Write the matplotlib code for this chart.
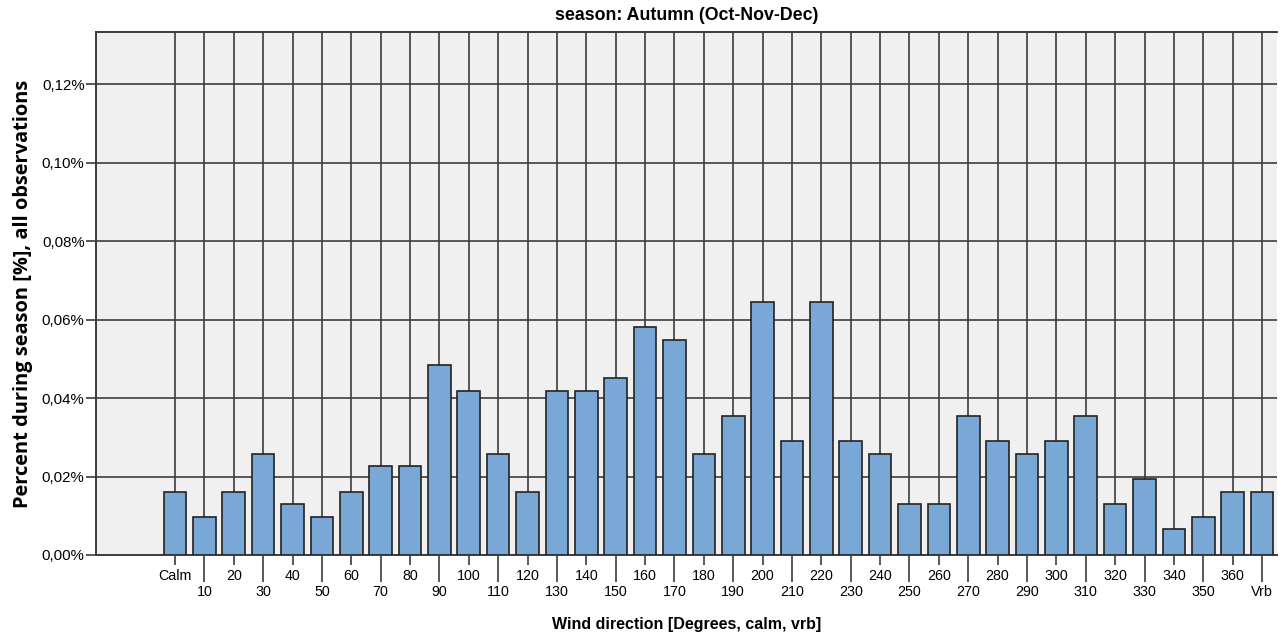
import matplotlib.pyplot as plt
import numpy as np

plt.rcParams['font.family'] = ['Liberation Sans', 'DejaVu Sans']

# Data
categories = ['Calm', '10', '20', '30', '40', '50', '60', '70', '80', '90',
              '100', '110', '120', '130', '140', '150', '160', '170', '180',
              '190', '200', '210', '220', '230', '240', '250', '260', '270',
              '280', '290', '300', '310', '320', '330', '340', '350', '360', 'Vrb']
percent = [0.0161, 0.0097, 0.0161, 0.0258, 0.0129, 0.0097, 0.0161, 0.0226,
           0.0226, 0.0484, 0.0419, 0.0258, 0.0161, 0.0419, 0.0419, 0.0452,
           0.0581, 0.0548, 0.0258, 0.0355, 0.0645, 0.0290, 0.0645, 0.0290,
           0.0258, 0.0129, 0.0129, 0.0355, 0.0290, 0.0258, 0.0290, 0.0355,
           0.0129, 0.0194, 0.0065, 0.0097, 0.0161, 0.0161]
yticks = [0.0, 0.02, 0.04, 0.06, 0.08, 0.10, 0.12]
ytick_labels = ['0,00%', '0,02%', '0,04%', '0,06%', '0,08%', '0,10%', '0,12%']

fig = plt.figure(figsize=(12.85, 6.39), dpi=100)
ax = fig.add_axes([96 / 1285, 1 - 555 / 639, (1277 - 96) / 1285, (555 - 32) / 639])
ax.set_facecolor('#f0f0f0')

x = np.arange(len(categories))
grid_color = '#3c3c3c'

# grid behind bars
for xi in x:
    ax.axvline(xi, color=grid_color, lw=1.2, zorder=1)
for yt in yticks[1:]:
    ax.axhline(yt, color=grid_color, lw=1.2, zorder=1)

ax.bar(x, percent, width=0.77, color='#79a7d6', edgecolor='#222222',
       linewidth=1.2, zorder=3)

ax.set_xlim(-2.69, len(categories) - 0.49)
ax.set_ylim(0, 0.1333)

# staggered category labels
ax.set_xticks(x[::2])
ax.set_xticklabels(categories[::2])
ax.set_xticks(x[1::2], minor=True)
ax.set_xticklabels(categories[1::2], minor=True)
ax.tick_params(axis='x', which='major', length=7.2, width=1.2, color=grid_color,
               labelsize=10.3, pad=3)
ax.tick_params(axis='x', which='minor', length=19.4, width=1.2, color=grid_color,
               labelsize=10.3, pad=2)

ax.set_yticks(yticks)
ax.set_yticklabels(ytick_labels)
ax.tick_params(axis='y', length=7.2, width=1.2, color=grid_color, labelsize=10.8, pad=1)

for side in ['left', 'top', 'bottom']:
    ax.spines[side].set_color(grid_color)
    ax.spines[side].set_linewidth(1.4)
ax.spines['right'].set_visible(False)

ax.set_title('season: Autumn (Oct-Nov-Dec)', fontsize=12.8, fontweight='bold', pad=9)
ax.set_xlabel('Wind direction [Degrees, calm, vrb]', fontsize=11.5, fontweight='bold',
              labelpad=13)
ax.set_ylabel('Percent during season [%], all observations', family=['Open Sans', 'DejaVu Sans'],
              fontsize=14.4, fontweight='bold', labelpad=6)

fig.savefig('out.png', dpi=100)
